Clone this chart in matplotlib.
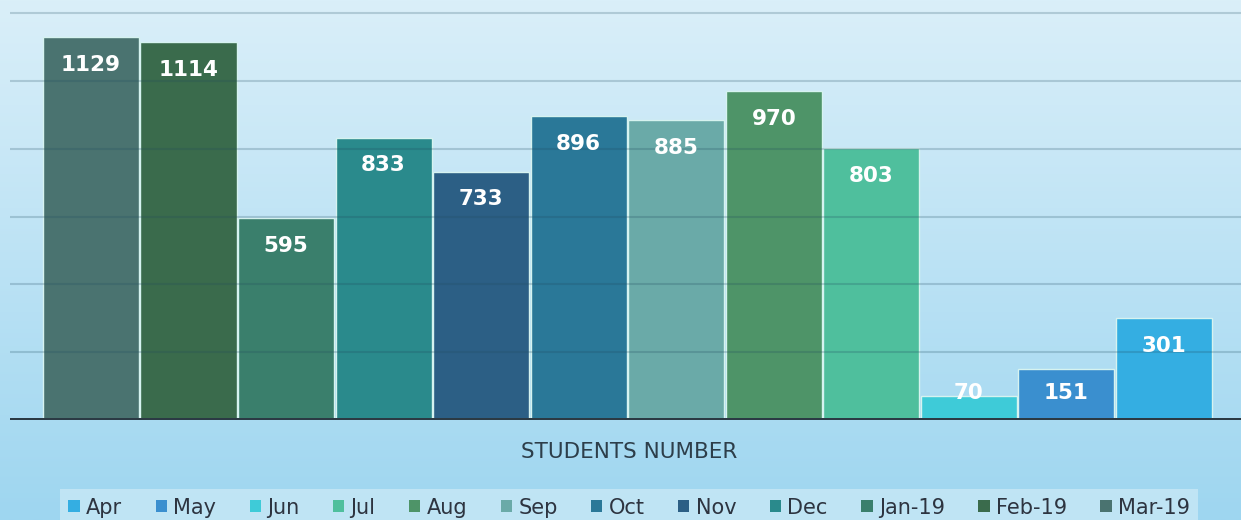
import matplotlib
matplotlib.use("Agg")
import matplotlib.pyplot as plt
import numpy as np
from matplotlib.patches import Patch

months = ['Apr', 'May', 'Jun', 'Jul', 'Aug', 'Sep', 'Oct', 'Nov', 'Dec', 'Jan-19', 'Feb-19', 'Mar-19']
students = [301, 151, 70, 803, 970, 885, 896, 733, 833, 595, 1114, 1129]
colors = ['#34aee2', '#3a8fcf', '#3ecbd8', '#4fbf9d', '#4e9468', '#6aaaa8',
          '#2a7898', '#2c5f85', '#2a8a8c', '#3a7f6c', '#3a6b4c', '#4a7370']
yticks = [0, 200, 400, 600, 800, 1000, 1200]
title = 'STUDENTS NUMBER'

plt.rcParams['font.family'] = ['DejaVu Sans']

W, H = 1241, 520
fig = plt.figure(figsize=(W / 100, H / 100), dpi=100)

# gradient background
bg = fig.add_axes([0, 0, 1, 1], zorder=-10)
top = np.array([218, 239, 249]) / 255
bot = np.array([158, 214, 240]) / 255
t = np.linspace(0, 1, 256)[:, None]
grad = top[None, :] * (1 - t) + bot[None, :] * t
bg.imshow(grad[:, None, :], aspect='auto', extent=[0, 1, 0, 1])
bg.axis('off')

ax = fig.add_axes([10 / W, 100 / H, 1 - 10 / W, 420 / H])
ax.set_facecolor('none')

n = len(months)
for i, (m, v, c) in enumerate(zip(months, students, colors)):
    x = n - 1 - i
    ax.bar(x, v, width=0.985, color=c, edgecolor='#d6f3f0', linewidth=1.0, zorder=2)
    ly = max(v - 82, 80)
    ax.text(x, ly, str(v), ha='center', va='center', color='white',
            fontsize=15.5, fontweight='bold', zorder=5)

for yv in yticks[1:]:
    ax.axhline(yv, color='#1f4a5e', alpha=0.22, linewidth=1.5, zorder=3)
ax.axhline(0, color='#2b3a44', linewidth=3.6, zorder=4)

ax.set_xlim(-0.83, 11.79)
ax.set_ylim(0, 1239)
for s in ax.spines.values():
    s.set_visible(False)
ax.set_xticks([])
ax.set_yticks([])

fig.text(0.507, 1 - 452 / H, title, ha='center', va='center',
         fontsize=15.5, color='#2d3e4a')

handles = [Patch(facecolor=c, edgecolor='none') for c in colors]
leg = fig.legend(handles, months, loc='center', bbox_to_anchor=(0.507, 0.024),
                 ncol=12, frameon=True, fontsize=15, handlelength=0.55,
                 handleheight=0.55, handletextpad=0.3, columnspacing=1.6,
                 borderpad=0.4, fancybox=False)
leg.get_frame().set_facecolor('#c8e8f6')
leg.get_frame().set_edgecolor('none')
leg.get_frame().set_alpha(0.8)
for txt in leg.get_texts():
    txt.set_color('#2d3440')

fig.savefig('out.png', dpi=100)
